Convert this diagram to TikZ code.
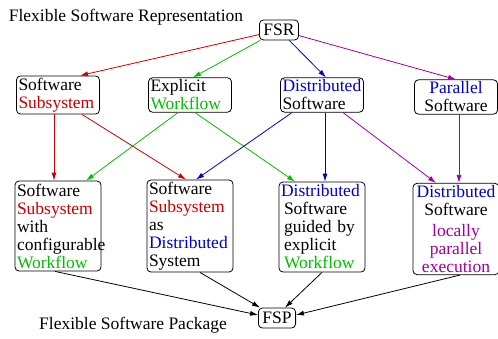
\documentclass[tikz,border=0pt]{standalone}
\usepackage{fontspec}
\setmainfont{Liberation Serif}
\usepackage{tikz}
\usetikzlibrary{positioning}
\usetikzlibrary{arrows.meta}
\tikzset{>={Latex[width=5pt,length=8pt]}}
\definecolor{fsred}{RGB}{200,0,0}
\definecolor{fsgreen}{RGB}{0,190,0}
\definecolor{fsblue}{RGB}{0,0,200}
\definecolor{fspurple}{RGB}{160,0,160}

\begin{document}
\begin{tikzpicture}[x=1pt,y=-1pt,font=\fontsize{17.5}{18}\selectfont]
% Define styles
\tikzstyle{box} = [rectangle, rounded corners=4pt, draw, line width=0.8pt, fill=white, inner sep=2pt, align=left]
\tikzstyle{endbox} = [box, align=center, inner xsep=4pt, minimum height=20pt]
\tikzstyle{topbox} = [box, text width=79pt, minimum height=34pt]
\tikzstyle{lowbox} = [box, text width=82pt, minimum height=90pt]
\tikzstyle{edge} = [->, line width=0.8pt]
\useasboundingbox (0,0) rectangle (498,338);
% Define nodes
\node (fsrlabel) at (126,17) {Flexible Software Representation};
\node[endbox] (fsr) at (279,30) {FSR};
\node[topbox] (ss) at (58,95) {Software\\\textcolor{fsred}{Subsystem}};
\node[topbox] (ew) at (190,95) {Explicit\\\textcolor{fsgreen}{Workflow}};
\node[topbox] (ds) at (322,95) {\textcolor{fsblue}{Distributed}\\Software};
\node[topbox, align=center] (ps) at (456,97) {\textcolor{fsblue}{Parallel}\\Software};
\node[lowbox] (b1) at (58,226) {Software\\\textcolor{fsred}{Subsystem}\\with\\configurable\\\textcolor{fsgreen}{Workflow}};
\node[lowbox] (b2) at (190,226) {Software\\\textcolor{fsred}{Subsystem}\\as\\\textcolor{fsblue}{Distributed}\\System};
\node[lowbox] (b3) at (322,227) {\textcolor{fsblue}{Distributed}\\\hspace*{3pt}Software\\\hspace*{3pt}guided by\\\hspace*{3pt}explicit\\\hspace*{3pt}\textcolor{fsgreen}{Workflow}};
\node[lowbox, align=center] (b4) at (456,229) {\textcolor{fsblue}{Distributed}\\Software\\[3pt]\textcolor{fspurple}{locally}\\\textcolor{fspurple}{parallel}\\\textcolor{fspurple}{execution}};
\node[endbox] (fsp) at (277,318) {FSP};
\node (fsplabel) at (133,325) {Flexible Software Package};
% Connect the nodes
\draw[edge, fsred] (fsr) -- ([xshift=22pt]ss.north);
\draw[edge, fsgreen] (fsr) -- ([xshift=3pt]ew.north);
\draw[edge, fsblue] (fsr) -- ([xshift=4pt]ds.north);
\draw[edge, fspurple] (fsr) -- (ps.north);
\draw[edge, fsred] ([xshift=-4pt]ss.south) -- ([xshift=-4pt]b1.north);
\draw[edge, fsred] ([xshift=24pt]ss.south) -- ([xshift=-4pt]b2.north);
\draw[edge, fsgreen] ([xshift=-12pt]ew.south) -- ([xshift=28pt]b1.north);
\draw[edge, fsgreen] ([xshift=5pt]ew.south) -- ([xshift=-27pt]b3.north);
\draw[edge, fsblue] ([xshift=-30pt]ds.south) -- ([xshift=6pt]b2.north);
\draw[edge, fsblue] ([xshift=3pt]ds.south) -- ([xshift=3pt]b3.north);
\draw[edge, fspurple] ([xshift=21pt]ds.south) -- ([xshift=-20pt]b4.north);
\draw[edge, fspurple] ([xshift=3pt]ps.south) -- ([xshift=3pt]b4.north);
\draw[edge] ([xshift=-3pt]b1.south) -- ([yshift=3pt]fsp.west);
\draw[edge] ([xshift=10pt]b2.south) -- ([xshift=-17pt]fsp.north);
\draw[edge] (b3.south) -- ([xshift=8pt]fsp.north);
\draw[edge] ([xshift=4pt]b4.south) -- ([yshift=3pt]fsp.east);
\end{tikzpicture}
\end{document}
